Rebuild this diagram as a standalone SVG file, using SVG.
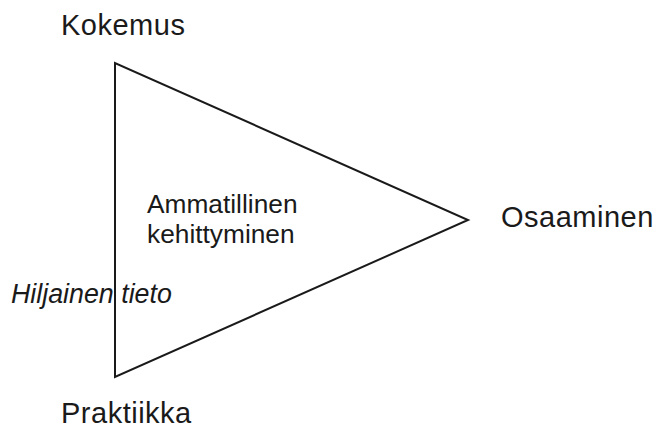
<svg xmlns="http://www.w3.org/2000/svg" width="659" height="428" viewBox="0 0 659 428">
<style>
text { font-family: "Liberation Sans", Arial, sans-serif; fill: #1a1a1a; }
.big { font-size: 29px; letter-spacing: 0.5px; }
.mid { font-size: 26.3px; }
.it { font-style: italic; font-size: 26.8px; }
.edge { fill: none; stroke: #1a1a1a; stroke-width: 2; }
</style>
<rect width="659" height="428" fill="#ffffff"/>
<g id="connectors">
<polygon class="edge" points="115,63 115,377 468,220"/>
</g>
<g id="kokemus"><text class="big" x="61" y="35">Kokemus</text></g>
<g id="praktiikka"><text class="big" x="61" y="423">Praktiikka</text></g>
<g id="osaaminen"><text class="big" x="501" y="227">Osaaminen</text></g>
<g id="ammatillinen"><text class="mid" x="147" y="213">Ammatillinen</text><text class="mid" x="147" y="243">kehittyminen</text></g>
<g id="hiljainen"><text class="it" x="11" y="303">Hiljainen tieto</text></g>
</svg>
